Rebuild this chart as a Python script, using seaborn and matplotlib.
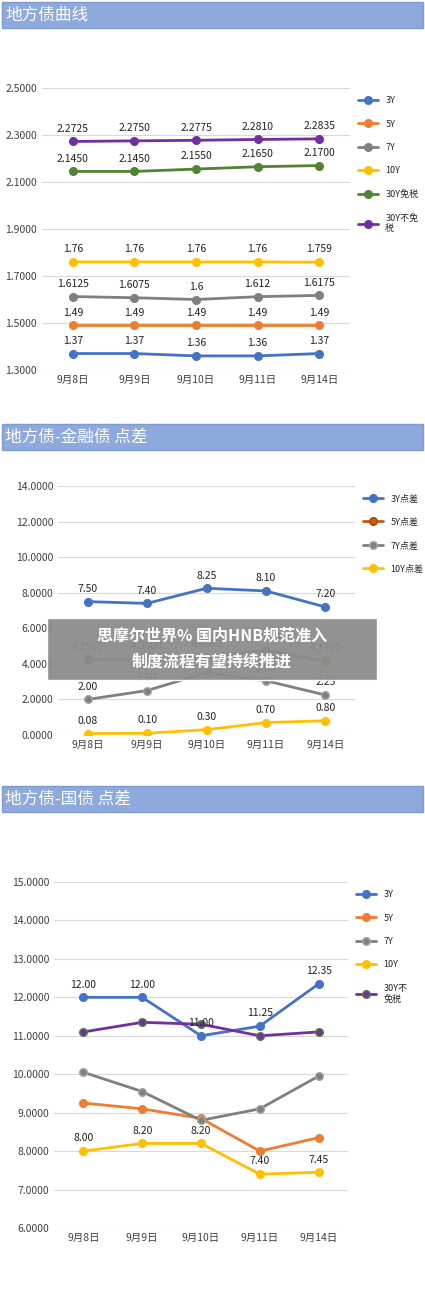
import matplotlib
matplotlib.use("Agg")
import matplotlib.pyplot as plt
import seaborn as sns
import pandas as pd
from matplotlib.patches import Rectangle

sns.set_theme(style="white")
plt.rcParams['font.family'] = ['Noto Sans CJK SC', 'DejaVu Sans']

dates = ["9月8日", "9月9日", "9月10日", "9月11日", "9月14日"]

# Panel 1: 地方债曲线
p1_3y = [1.37, 1.37, 1.36, 1.36, 1.37]
p1_5y = [1.49, 1.49, 1.49, 1.49, 1.49]
p1_7y = [1.6125, 1.6075, 1.6, 1.612, 1.6175]
p1_10y = [1.76, 1.76, 1.76, 1.76, 1.759]
p1_30y_ex = [2.145, 2.145, 2.155, 2.165, 2.17]
p1_30y = [2.2725, 2.275, 2.2775, 2.281, 2.2835]

# Panel 2: 地方债-金融债 点差
p2_3y = [7.50, 7.40, 8.25, 8.10, 7.20]
p2_5y = [4.25, 4.30, 4.40, 4.75, 4.17]
p2_7y = [2.00, 2.50, 3.50, 3.05, 2.25]
p2_10y = [0.08, 0.10, 0.30, 0.70, 0.80]

# Panel 3: 地方债-国债 点差
p3_3y = [12.00, 12.00, 11.00, 11.25, 12.35]
p3_5y = [9.25, 9.10, 8.85, 8.00, 8.35]
p3_7y = [10.05, 9.55, 8.80, 9.10, 9.95]
p3_10y = [8.00, 8.20, 8.20, 7.40, 7.45]
p3_30y = [11.10, 11.35, 11.30, 11.00, 11.10]

BLUE, ORANGE, GRAY, YELLOW, GREEN, PURPLE = "#4472C4", "#ED7D31", "#7F7F7F", "#FFC000", "#548235", "#7030A0"

W, H = 425, 1300
fig = plt.figure(figsize=(W/100, H/100), dpi=100)

def header(y0, h, text):
    fig.patches.append(Rectangle((2/W, 1-(y0+h)/H), 421/W, h/H, transform=fig.transFigure,
                                 facecolor="#8EA9DB", edgecolor="#7F9CD0", zorder=0))
    fig.text(5/W, 1-(y0+h/2)/H, text, color="white", fontsize=12, va="center", ha="left")

def panel(top, bottom, left, right, series, ylim, yticks, labels):
    ax = fig.add_axes([left/W, 1-bottom/H, (right-left)/W, (bottom-top)/H])
    rows = []
    for name, vals, col, mec in series:
        for d, v in zip(dates, vals):
            rows.append((name, d, v))
    df = pd.DataFrame(rows, columns=["s", "d", "v"])
    for name, vals, col, mec in series:
        sub = df[df.s == name]
        sns.lineplot(data=sub, x="d", y="v", ax=ax, color=col, lw=2, marker="o", markersize=5.5,
                     markeredgecolor=mec, markeredgewidth=1, label=name, sort=False)
    for name, vals, fmt in labels:
        for i, v in enumerate(vals):
            ax.annotate(fmt.format(v), (i, v), xytext=(0, 7), textcoords="offset points",
                        ha="center", fontsize=7.5, color="#222222")
    ax.set_ylim(*ylim)
    ax.set_yticks(yticks)
    ax.set_yticklabels([f"{t:.4f}" for t in yticks], fontsize=7.5, color="#404040")
    ax.tick_params(axis="x", labelsize=7.5, length=0, labelcolor="#404040")
    ax.tick_params(axis="y", length=0)
    ax.set_xlabel(""); ax.set_ylabel("")
    ax.set_xlim(-0.5, 4.5)
    ax.grid(axis="y", color="#D9D9D9", lw=0.8)
    for s in ax.spines.values():
        s.set_visible(False)
    ax.legend(loc="upper left", bbox_to_anchor=(1.0, 1.0), frameon=False, fontsize=6.5,
              labelspacing=1.6, handlelength=2.2)
    return ax

header(2, 26, "地方债曲线")
panel(88, 370, 42, 350,
      [("3Y", p1_3y, BLUE, BLUE), ("5Y", p1_5y, ORANGE, ORANGE), ("7Y", p1_7y, GRAY, GRAY),
       ("10Y", p1_10y, YELLOW, YELLOW), ("30Y免税", p1_30y_ex, GREEN, GREEN),
       ("30Y不免\n税", p1_30y, PURPLE, PURPLE)],
      (1.3, 2.5), [1.3, 1.5, 1.7, 1.9, 2.1, 2.3, 2.5],
      [("a", p1_3y, "{:g}"), ("b", p1_5y, "{:g}"), ("c", p1_7y, "{:g}"), ("d", p1_10y, "{:g}"),
       ("e", p1_30y_ex, "{:.4f}"), ("f", p1_30y, "{:.4f}")])

header(424, 26, "地方债-金融债 点差")
panel(486, 735, 58, 355,
      [("3Y点差", p2_3y, BLUE, BLUE), ("5Y点差", p2_5y, "#C55A11", "#A0460D"),
       ("7Y点差", p2_7y, GRAY, "#A5A5A5"), ("10Y点差", p2_10y, YELLOW, YELLOW)],
      (0, 14), [0, 2, 4, 6, 8, 10, 12, 14],
      [("a", p2_3y, "{:.2f}"), ("b", p2_5y, "{:.4f}"), ("c", p2_7y, "{:.2f}"), ("d", p2_10y, "{:.2f}")])

header(786, 26, "地方债-国债 点差")
panel(882, 1228, 54, 348,
      [("3Y", p3_3y, BLUE, BLUE), ("5Y", p3_5y, ORANGE, ORANGE), ("7Y", p3_7y, GRAY, "#A5A5A5"),
       ("10Y", p3_10y, YELLOW, YELLOW), ("30Y不\n免税", p3_30y, PURPLE, GREEN)],
      (6, 15), [6, 7, 8, 9, 10, 11, 12, 13, 14, 15],
      [("a", p3_3y, "{:.2f}"), ("b", p3_10y, "{:.2f}")])

# overlay banner
fig.patches.append(Rectangle((47/W, 1-680/H), 330/W, 62/H, transform=fig.transFigure,
                             facecolor="#8C8C8C", alpha=0.95, zorder=5))
fig.text(0.5*(47+377)/W, 1-636/H, "思摩尔世界% 国内HNB规范准入", color="white", fontsize=11.5,
         fontweight="bold", ha="center", va="center", zorder=6)
fig.text(0.5*(47+377)/W, 1-662/H, "制度流程有望持续推进", color="white", fontsize=11.5,
         fontweight="bold", ha="center", va="center", zorder=6)

fig.savefig("out.png", dpi=100)
